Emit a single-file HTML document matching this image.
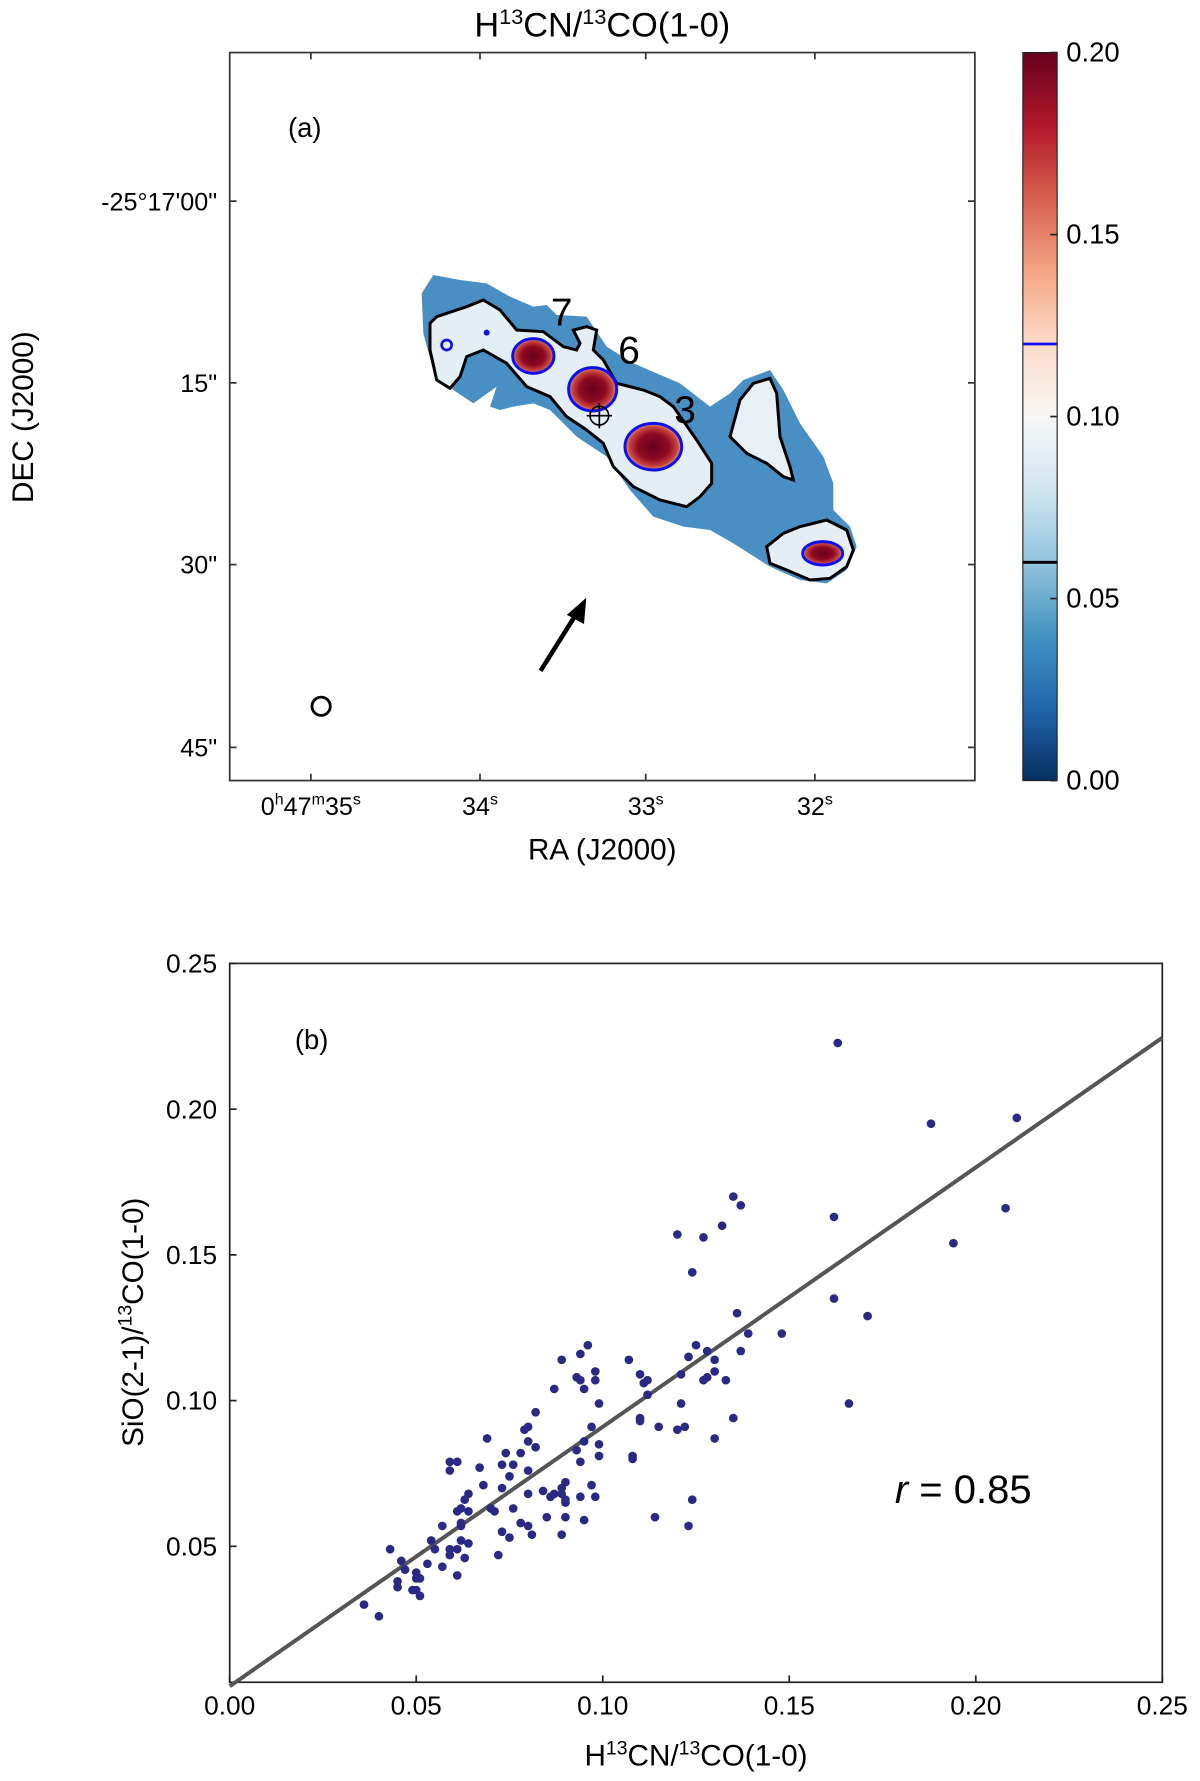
<!DOCTYPE html>
<html><head><meta charset="utf-8"><style>
html,body{margin:0;padding:0;background:#fff}
svg{display:block;font-family:"Liberation Sans","DejaVu Sans",sans-serif}
</style></head><body>
<svg id="fig" width="1200" height="1781" viewBox="0 0 1050 1558.4" preserveAspectRatio="none">
<defs>
<linearGradient id="cbar" x1="0" y1="1" x2="0" y2="0">
<stop offset="0" stop-color="#053061"/><stop offset="0.1" stop-color="#2166ac"/><stop offset="0.2" stop-color="#4393c3"/><stop offset="0.3" stop-color="#92c5de"/><stop offset="0.4" stop-color="#d1e5f0"/><stop offset="0.5" stop-color="#f7f7f7"/><stop offset="0.6" stop-color="#fddbc7"/><stop offset="0.7" stop-color="#f4a582"/><stop offset="0.8" stop-color="#d6604d"/><stop offset="0.9" stop-color="#b2182b"/><stop offset="1" stop-color="#67001f"/>
</linearGradient>
<radialGradient id="blob"><stop offset="0" stop-color="#67001a"/><stop offset="0.55" stop-color="#8e0a22"/><stop offset="0.85" stop-color="#c8463e"/><stop offset="1" stop-color="#eea080"/></radialGradient>
</defs>

<g>
<text x="527" y="32" font-size="30" text-anchor="middle">H<tspan font-size="19" dy="-11">13</tspan><tspan dy="11">CN/</tspan><tspan font-size="19" dy="-11">13</tspan><tspan dy="11">CO(1-0)</tspan></text>
<g transform="translate(350,218.75) scale(0.29167)">
<polygon fill="#4a8fc3" points="65,130 100,75 180,90 260,100 330,140 400,170 440,165 470,195 560,200 620,290 700,340 770,370 840,400 930,470 990,430 1030,390 1110,360 1150,420 1200,520 1270,620 1300,700 1300,780 1350,830 1370,890 1340,960 1280,1000 1200,990 1110,950 1000,880 930,840 850,830 760,800 690,720 620,620 530,560 450,480 400,460 340,470 300,480 270,470 290,410 220,460 160,420 100,360 70,250"/>
<polygon fill="#e4eef5" stroke="#000" stroke-width="9" points="90,220 110,200 200,170 250,150 300,180 350,240 430,245 490,290 530,300 540,280 520,240 560,230 590,240 580,300 610,330 650,400 730,420 780,440 820,470 890,570 935,640 935,700 900,740 860,770 780,750 700,710 640,650 610,580 560,540 500,500 450,440 380,410 320,340 250,300 200,320 180,380 150,415 110,390 90,300"/>
<polygon fill="#e8eff5" stroke="#000" stroke-width="9" points="990,560 1020,450 1060,400 1110,385 1130,430 1140,560 1170,650 1180,690 1150,680 1100,640 1040,610"/>
<polygon fill="#e6eef5" stroke="#000" stroke-width="9" points="1100,890 1150,850 1200,830 1280,810 1340,840 1360,900 1340,950 1290,985 1230,990 1160,960 1110,940"/>
<ellipse cx="400" cy="318" rx="62" ry="52" fill="url(#blob)" stroke="#1010ee" stroke-width="9"/>
<ellipse cx="578" cy="418" rx="72" ry="65" fill="url(#blob)" stroke="#1010ee" stroke-width="9"/>
<ellipse cx="760" cy="590" rx="85" ry="70" fill="url(#blob)" stroke="#1010ee" stroke-width="9"/>
<ellipse cx="1268" cy="910" rx="60" ry="35" fill="url(#blob)" stroke="#1010ee" stroke-width="9"/>
<circle cx="260" cy="248" r="9" fill="#1010ee"/>
<circle cx="140" cy="285" r="15" fill="none" stroke="#1010ee" stroke-width="8"/>
<g stroke="#000" stroke-width="5" fill="none"><circle cx="598" cy="497" r="28"/><line x1="560" y1="497" x2="636" y2="497"/><line x1="598" y1="459" x2="598" y2="535"/></g>
</g>
<text x="482" y="285" font-size="34">7</text>
<text x="541" y="318" font-size="34">6</text>
<text x="590" y="370" font-size="34">3</text>
<text x="252" y="120" font-size="24">(a)</text>
<circle cx="281" cy="618" r="8" fill="none" stroke="#000" stroke-width="2.5"/>
<g><line x1="473" y1="587" x2="505" y2="536" stroke="#000" stroke-width="4"/><polygon points="513,523 496,538 511,546" fill="#000"/></g>
<rect x="201" y="46" width="652" height="637" fill="none" stroke="#333" stroke-width="1.5"/>
<g id="mapticks" font-size="22"></g>
<text x="22" y="365" font-size="26" transform="rotate(-90 22 365)" text-anchor="middle" dominant-baseline="middle">DEC (J2000)</text>
<text x="527" y="752" font-size="26" text-anchor="middle">RA (J2000)</text>
<rect x="895" y="46" width="30" height="637" fill="url(#cbar)" stroke="#222" stroke-width="1"/>
<line x1="895" y1="301" x2="925" y2="301" stroke="#1010ee" stroke-width="2.5"/>
<line x1="895" y1="492" x2="925" y2="492" stroke="#000" stroke-width="2.5"/>
<g id="cbticks" font-size="24"></g>
</g>

<g>
<rect x="201" y="843" width="816" height="629" fill="none" stroke="#222" stroke-width="1.5"/>
<g id="scatter"></g>
<g id="sticks" font-size="23"></g>
<text x="258" y="918" font-size="24">(b)</text>
<text x="783" y="1315" font-size="35"><tspan font-style="italic">r</tspan> = 0.85</text>
<text x="0" y="0" font-size="26" text-anchor="middle" transform="translate(125,1157) rotate(-90)">SiO(2-1)/<tspan font-size="17" dy="-10">13</tspan><tspan dy="10">CO(1-0)</tspan></text>
<text x="609" y="1545" font-size="26" text-anchor="middle">H<tspan font-size="17" dy="-10">13</tspan><tspan dy="10">CN/</tspan><tspan font-size="17" dy="-10">13</tspan><tspan dy="10">CO(1-0)</tspan></text>
</g>
</svg>
<script>
const NS="http://www.w3.org/2000/svg";
const decLabels=['-25°17\'00"','15"','30"','45"'];
const decPos=[176,335,494,654];
const raLabels=['0h47m35s','34s','33s','32s'];
const raPos=[272,420,565,713];
const cbValues=[0,0.05,0.10,0.15,0.20];
const cbLabels=['0.00','0.05','0.10','0.15','0.20'];
const xVals=[.163,.188,.211,.208,.194,.162,.135,.137,.132,.120,.127,.124,.162,.171,.136,.139,.148,.137,.125,.128,.123,.130,.130,.121,.128,.127,.133,.107,.110,.112,.111,.112,.096,.094,.089,.098,.093,.094,.098,.095,.087,.099,.121,.166,.110,.110,.135,.082,.097,.115,.120,.122,.130,.079,.080,.069,.095,.080,.082,.099,.078,.093,.108,.108,.074,.099,.076,.073,.094,.059,.061,.067,.059,.080,.075,.068,.090,.097,.073,.089,.080,.084,.087,.064,.063,.089,.094,.098,.086,.090,.090,.124,.070,.076,.061,.062,.064,.071,.057,.062,.062,.085,.090,.095,.114,.078,.080,.123,.073,.075,.081,.089,.054,.064,.062,.055,.043,.059,.061,.059,.072,.063,.046,.053,.057,.047,.061,.050,.045,.050,.051,.045,.049,.050,.051,.036,.040];
const yVals=[.2227,.195,.197,.166,.154,.163,.170,.167,.160,.157,.156,.144,.135,.129,.130,.123,.123,.117,.119,.117,.115,.114,.110,.109,.108,.107,.107,.114,.109,.107,.106,.102,.119,.116,.114,.110,.108,.107,.107,.104,.104,.099,.099,.099,.094,.093,.094,.096,.091,.091,.090,.091,.087,.090,.091,.087,.086,.086,.084,.085,.082,.083,.081,.080,.082,.081,.078,.078,.079,.079,.079,.077,.076,.076,.074,.071,.072,.071,.070,.070,.068,.069,.068,.068,.066,.068,.067,.067,.067,.065,.066,.066,.063,.063,.062,.063,.062,.062,.057,.058,.057,.060,.060,.059,.060,.058,.057,.057,.055,.053,.054,.054,.052,.051,.052,.049,.049,.049,.049,.047,.047,.046,.045,.044,.043,.042,.040,.041,.038,.039,.039,.036,.035,.035,.033,.030,.026];
const xTicks=[0,0.05,0.10,0.15,0.20,0.25];
const xTickLabels=['0.00','0.05','0.10','0.15','0.20','0.25'];
const yTicks=[0.05,0.10,0.15,0.20,0.25];
const yTickLabels=['0.05','0.10','0.15','0.20','0.25'];
const fitSlope=0.89, fitIntercept=0.002;
const X0=201,X1=1017,XMIN=0,XMAX=0.25;
const Y0=1472,Y1=843,YMIN=0.00336,YMAX=0.25;
function sx(v){return X0+(v-XMIN)/(XMAX-XMIN)*(X1-X0);}
function sy(v){return Y0-(v-YMIN)/(YMAX-YMIN)*(Y0-Y1);}
function cby(v){return 683-v/0.2*637;}
function mk(tag,attrs,parent){const e=document.createElementNS(NS,tag);for(const k in attrs)e.setAttribute(k,attrs[k]);parent.appendChild(e);return e;}

const mt=document.getElementById('mapticks');
decPos.forEach((p,i)=>{
  mk('line',{x1:201,y1:p,x2:207,y2:p,stroke:'#333','stroke-width':1.5},mt);
  mk('line',{x1:847,y1:p,x2:853,y2:p,stroke:'#333','stroke-width':1.5},mt);
  const t=mk('text',{x:190,y:p+8,'text-anchor':'end'},mt);t.textContent=decLabels[i];
  
  
});
raPos.forEach((p,i)=>{
  mk('line',{x1:p,y1:683,x2:p,y2:677,stroke:'#333','stroke-width':1.5},mt);
  mk('line',{x1:p,y1:46,x2:p,y2:52,stroke:'#333','stroke-width':1.5},mt);
  const t=mk('text',{x:p,y:713,'text-anchor':'middle'},mt);
  if(i===0){t.innerHTML='0<tspan font-size="14" dy="-9">h</tspan><tspan dy="9">47</tspan><tspan font-size="14" dy="-9">m</tspan><tspan dy="9">35</tspan><tspan font-size="14" dy="-9">s</tspan>';}
  else{t.innerHTML=raLabels[i].replace('s','')+'<tspan font-size="14" dy="-9">s</tspan>';}
  
  
});
const cb=document.getElementById('cbticks');
cbValues.forEach((v,i)=>{
  const y=cby(v);
  mk('line',{x1:919,y1:y,x2:925,y2:y,stroke:'#222','stroke-width':1.5},cb);
  const t=mk('text',{x:933,y:y+8},cb);t.textContent=cbLabels[i];
  
  
});

const st=document.getElementById('sticks');
xTicks.forEach((v,i)=>{
  const x=sx(v);
  mk('line',{x1:x,y1:1472,x2:x,y2:1466,stroke:'#222','stroke-width':1.5},st);
  const t=mk('text',{x:x,y:1500,'text-anchor':'middle'},st);t.textContent=xTickLabels[i];
  
  
});
yTicks.forEach((v,i)=>{
  const y=sy(v);
  mk('line',{x1:201,y1:y,x2:207,y2:y,stroke:'#222','stroke-width':1.5},st);
  const t=mk('text',{x:190,y:y+8,'text-anchor':'end'},st);t.textContent=yTickLabels[i];
  
  
});
const sc=document.getElementById('scatter');
const fit=mk('line',{x1:sx(0),y1:sy(fitIntercept),x2:sx(0.25),y2:sy(fitIntercept+fitSlope*0.25),stroke:'#555','stroke-width':3.5},sc);


xVals.forEach((v,i)=>{
  const c=mk('circle',{cx:sx(v),cy:sy(yVals[i]),r:3.8,fill:'#2a2a85'},sc);
  
  
});
</script>
</body></html>
